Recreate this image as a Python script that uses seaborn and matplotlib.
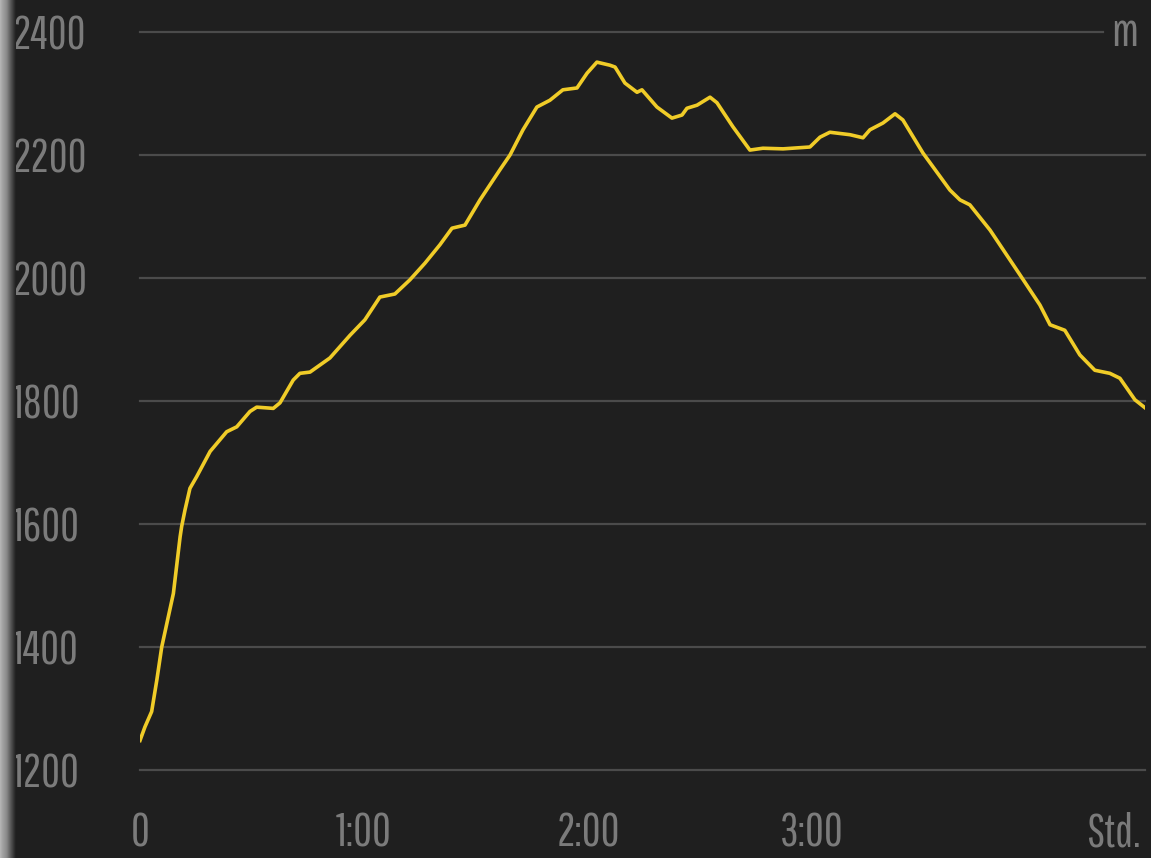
import numpy as np
import pandas as pd
import matplotlib
matplotlib.use('Agg')
import matplotlib.pyplot as plt
import seaborn as sns

# elevation profile: time in hours, elevation in metres
hours = [0.000, 0.022, 0.052, 0.075, 0.097, 0.149, 0.179, 0.186, 0.201, 0.223,
         0.253, 0.313, 0.387, 0.432, 0.491, 0.521, 0.595, 0.625, 0.684, 0.714,
         0.759, 0.848, 0.938, 1.004, 1.071, 1.138, 1.205, 1.272, 1.339, 1.393,
         1.451, 1.518, 1.607, 1.652, 1.710, 1.772, 1.830, 1.888, 1.951, 1.996,
         2.040, 2.098, 2.121, 2.165, 2.219, 2.241, 2.308, 2.375, 2.420, 2.442,
         2.487, 2.545, 2.576, 2.647, 2.723, 2.781, 2.871, 2.991, 3.036, 3.080,
         3.170, 3.228, 3.259, 3.317, 3.371, 3.406, 3.496, 3.616, 3.661, 3.705,
         3.795, 3.929, 4.018, 4.063, 4.129, 4.196, 4.263, 4.330, 4.375, 4.442,
         4.487]
elevation = [1248, 1270, 1295, 1346, 1400, 1487, 1579, 1596, 1623, 1658,
             1677, 1718, 1750, 1758, 1783, 1790, 1788, 1797, 1834, 1845,
             1847, 1870, 1907, 1932, 1969, 1974, 1997, 2024, 2054, 2081,
             2086, 2127, 2176, 2200, 2241, 2278, 2289, 2306, 2309, 2333,
             2351, 2346, 2343, 2317, 2302, 2306, 2278, 2260, 2265, 2276,
             2281, 2294, 2285, 2246, 2208, 2211, 2210, 2213, 2229, 2237,
             2233, 2228, 2241, 2252, 2267, 2257, 2203, 2143, 2127, 2119,
             2078, 2005, 1956, 1924, 1915, 1875, 1850, 1845, 1837, 1802,
             1789]

y_ticks = [1200, 1400, 1600, 1800, 2000, 2200, 2400]
x_ticks = [0, 1, 2, 3, 4.344]
x_labels = ['0', '1:00', '2:00', '3:00', 'Std.']

bg = '#1f1f1f'
txt = '#7b7b7b'
grid = '#4b4b4b'
yellow = '#f0cc28'
font = ['Pathway Gothic One', 'DejaVu Sans']
fsize = 33

df = pd.DataFrame({'hours': hours, 'elevation': elevation})

fig = plt.figure(figsize=(11.51, 8.58), dpi=100, facecolor=bg)
ax = fig.add_axes([140 / 1151, 1 - 770 / 858, 1005 / 1151, 738 / 858])
ax.set_facecolor(bg)

for v in y_ticks:
    xmax = 0.958 if v == y_ticks[-1] else 1.0
    ax.axhline(v, xmin=0, xmax=xmax, color=grid, lw=1.6, zorder=1, clip_on=False)

sns.lineplot(data=df, x='hours', y='elevation', ax=ax, color=yellow,
             linewidth=2.6, zorder=3)

ax.set_xlim(0, 4.487)
ax.set_ylim(1200, 2400)
ax.set_xlabel('')
ax.set_ylabel('')
for s in ax.spines.values():
    s.set_visible(False)

ax.set_xticks(x_ticks)
ax.set_xticklabels(x_labels)
ax.set_yticks(y_ticks)
ax.set_yticklabels([str(v) for v in y_ticks])
ax.tick_params(axis='x', length=0, pad=30, labelcolor=txt)
ax.tick_params(axis='y', length=0, pad=92, labelcolor=txt)
for lbl in ax.get_xticklabels() + ax.get_yticklabels():
    lbl.set_family(font)
    lbl.set_fontsize(fsize)
for lbl in ax.get_yticklabels():
    lbl.set_ha('left')

ax.text(0.98, 1.0, 'm', transform=ax.transAxes, ha='center', va='center',
        color=txt, fontsize=fsize, family=font)

# shaded left edge
edge = fig.add_axes([0, 0, 16 / 1151, 1])
grad = np.linspace(0, 1, 64) ** 0.8
edge.imshow(grad[np.newaxis, :], aspect='auto', cmap=matplotlib.colors.LinearSegmentedColormap.from_list(
    'edge', ['#b8b8b8', '#8a8a8a', bg]), extent=[0, 1, 0, 1])
edge.axis('off')

fig.savefig('out.png', dpi=100, facecolor=bg)
